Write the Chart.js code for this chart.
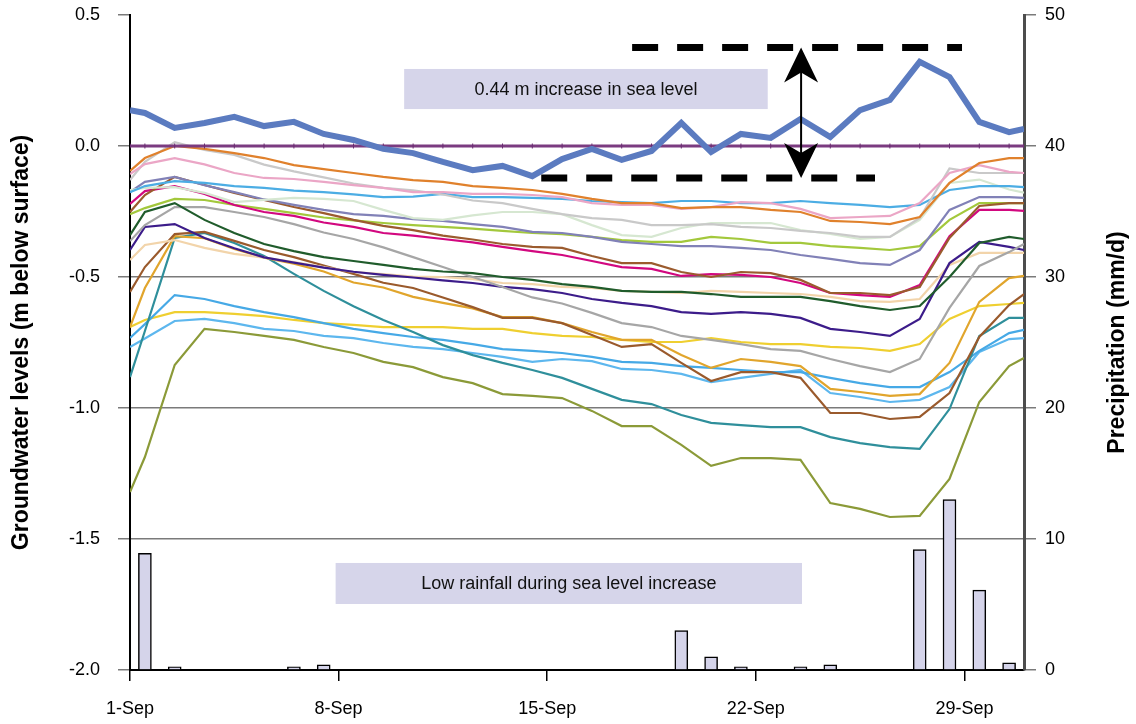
<!DOCTYPE html>
<html>
<head>
<meta charset="utf-8">
<script src="https://cdn.jsdelivr.net/npm/chart.js@4.4.1/dist/chart.umd.min.js"></script>
<style>
  html, body { margin: 0; padding: 0; background: #ffffff; }
  #wrap { width: 1136px; height: 724px; }
</style>
</head>
<body>
<div id="wrap"><canvas id="chart" width="1136" height="724"></canvas></div>
<script>
// Day offsets from 1 Sep 00:00 at which the water levels were logged
const dayOffsets = [0, 0.5, 1.5, 2.5, 3.5, 4.5, 5.5, 6.5, 7.5, 8.5, 9.5, 10.5, 11.5, 12.5, 13.5, 14.5,
  15.5, 16.5, 17.5, 18.5, 19.5, 20.5, 21.5, 22.5, 23.5, 24.5, 25.5, 26.5, 27.5, 28.5, 29.5, 30];

// Sea level (m) and the zero reference line
const seaLevel = [0.137, 0.126, 0.069, 0.088, 0.111, 0.076, 0.092, 0.046, 0.023, -0.011, -0.027, -0.061,
  -0.092, -0.076, -0.115, -0.050, -0.011, -0.053, -0.019, 0.088, -0.023, 0.046, 0.031, 0.103, 0.034,
  0.137, 0.176, 0.321, 0.263, 0.092, 0.053, 0.065];
const seaDatum = [0, 0, 0, 0, 0, 0, 0, 0, 0, 0, 0, 0, 0, 0, 0, 0, 0, 0, 0, 0, 0, 0, 0, 0, 0, 0, 0, 0, 0, 0, 0, 0];

// Groundwater levels, m below surface, one array per bore
const bore01 = [-0.095, -0.046, 0.000, -0.011, -0.027, -0.046, -0.073, -0.088, -0.103, -0.118, -0.130, -0.137, -0.153, -0.160, -0.168, -0.183, -0.202, -0.218, -0.218, -0.237, -0.233, -0.233, -0.244, -0.252, -0.286, -0.290, -0.298, -0.271, -0.141, -0.065, -0.046, -0.046];
const bore02 = [-0.107, -0.069, -0.046, -0.070, -0.103, -0.122, -0.126, -0.137, -0.149, -0.160, -0.176, -0.176, -0.183, -0.183, -0.187, -0.195, -0.218, -0.225, -0.225, -0.240, -0.233, -0.214, -0.218, -0.240, -0.275, -0.271, -0.267, -0.218, -0.103, -0.073, -0.099, -0.103];
const bore03 = [-0.130, -0.060, 0.015, -0.015, -0.034, -0.071, -0.097, -0.120, -0.143, -0.160, -0.169, -0.185, -0.208, -0.218, -0.240, -0.260, -0.275, -0.282, -0.302, -0.302, -0.298, -0.309, -0.313, -0.324, -0.332, -0.347, -0.347, -0.275, -0.086, -0.103, -0.103, -0.103];
const bore04 = [-0.176, -0.153, -0.134, -0.141, -0.153, -0.160, -0.170, -0.176, -0.185, -0.195, -0.193, -0.183, -0.195, -0.195, -0.198, -0.202, -0.210, -0.214, -0.218, -0.210, -0.210, -0.218, -0.218, -0.210, -0.218, -0.225, -0.233, -0.225, -0.168, -0.153, -0.153, -0.157];
const bore05 = [-0.168, -0.160, -0.157, -0.179, -0.214, -0.206, -0.198, -0.202, -0.210, -0.244, -0.275, -0.282, -0.265, -0.252, -0.252, -0.260, -0.302, -0.340, -0.347, -0.313, -0.294, -0.294, -0.294, -0.321, -0.336, -0.355, -0.347, -0.282, -0.141, -0.128, -0.166, -0.178];
const bore06 = [-0.176, -0.137, -0.118, -0.150, -0.176, -0.204, -0.225, -0.244, -0.260, -0.267, -0.279, -0.286, -0.298, -0.309, -0.328, -0.332, -0.347, -0.366, -0.374, -0.382, -0.382, -0.389, -0.397, -0.416, -0.431, -0.447, -0.454, -0.397, -0.244, -0.195, -0.195, -0.198];
const bore07 = [-0.252, -0.187, -0.118, -0.149, -0.179, -0.206, -0.233, -0.256, -0.282, -0.305, -0.321, -0.342, -0.357, -0.374, -0.385, -0.389, -0.420, -0.447, -0.447, -0.481, -0.500, -0.481, -0.485, -0.511, -0.561, -0.561, -0.569, -0.538, -0.351, -0.229, -0.218, -0.218];
const bore08 = [-0.221, -0.172, -0.153, -0.183, -0.225, -0.252, -0.267, -0.292, -0.309, -0.332, -0.342, -0.355, -0.368, -0.385, -0.401, -0.416, -0.439, -0.462, -0.469, -0.496, -0.489, -0.492, -0.500, -0.523, -0.561, -0.569, -0.576, -0.531, -0.344, -0.244, -0.244, -0.248];
const bore09 = [-0.260, -0.237, -0.202, -0.206, -0.225, -0.240, -0.256, -0.273, -0.284, -0.294, -0.302, -0.309, -0.315, -0.324, -0.332, -0.336, -0.347, -0.359, -0.366, -0.366, -0.347, -0.355, -0.370, -0.370, -0.382, -0.389, -0.397, -0.382, -0.282, -0.218, -0.218, -0.218];
const bore10 = [-0.340, -0.252, -0.218, -0.282, -0.332, -0.374, -0.401, -0.424, -0.439, -0.454, -0.469, -0.479, -0.485, -0.500, -0.511, -0.527, -0.538, -0.553, -0.557, -0.557, -0.565, -0.576, -0.576, -0.576, -0.592, -0.611, -0.626, -0.611, -0.500, -0.370, -0.347, -0.355];
const bore11 = [-0.363, -0.302, -0.233, -0.233, -0.252, -0.271, -0.298, -0.330, -0.355, -0.387, -0.424, -0.462, -0.500, -0.538, -0.578, -0.601, -0.637, -0.676, -0.691, -0.725, -0.740, -0.756, -0.775, -0.782, -0.813, -0.840, -0.863, -0.813, -0.618, -0.458, -0.405, -0.374];
const bore12 = [-0.397, -0.309, -0.298, -0.351, -0.390, -0.425, -0.445, -0.464, -0.480, -0.492, -0.502, -0.513, -0.523, -0.538, -0.546, -0.561, -0.584, -0.599, -0.611, -0.634, -0.641, -0.634, -0.641, -0.656, -0.698, -0.710, -0.725, -0.660, -0.447, -0.366, -0.385, -0.397];
const bore13 = [-0.435, -0.378, -0.359, -0.389, -0.412, -0.426, -0.443, -0.462, -0.481, -0.489, -0.498, -0.500, -0.508, -0.523, -0.527, -0.538, -0.542, -0.553, -0.557, -0.561, -0.553, -0.557, -0.561, -0.565, -0.576, -0.592, -0.595, -0.584, -0.454, -0.408, -0.408, -0.408];
const bore14 = [-0.557, -0.462, -0.336, -0.328, -0.362, -0.397, -0.424, -0.456, -0.488, -0.522, -0.542, -0.578, -0.615, -0.656, -0.656, -0.676, -0.721, -0.767, -0.756, -0.828, -0.897, -0.863, -0.863, -0.885, -1.019, -1.019, -1.042, -1.034, -0.943, -0.729, -0.607, -0.565];
const bore15 = [-0.691, -0.542, -0.344, -0.352, -0.393, -0.426, -0.449, -0.479, -0.521, -0.540, -0.576, -0.599, -0.620, -0.653, -0.653, -0.676, -0.710, -0.740, -0.740, -0.798, -0.847, -0.813, -0.824, -0.840, -0.927, -0.939, -0.954, -0.947, -0.828, -0.595, -0.504, -0.496];
const bore16 = [-0.882, -0.706, -0.351, -0.332, -0.370, -0.420, -0.488, -0.553, -0.612, -0.664, -0.710, -0.760, -0.798, -0.828, -0.855, -0.885, -0.927, -0.969, -0.985, -1.027, -1.057, -1.065, -1.073, -1.073, -1.111, -1.134, -1.149, -1.156, -1.004, -0.725, -0.656, -0.656];
const bore17 = [-0.733, -0.680, -0.569, -0.584, -0.611, -0.634, -0.653, -0.676, -0.698, -0.714, -0.729, -0.740, -0.756, -0.775, -0.782, -0.790, -0.805, -0.824, -0.828, -0.840, -0.847, -0.855, -0.863, -0.863, -0.885, -0.905, -0.920, -0.920, -0.863, -0.782, -0.714, -0.702];
const bore18 = [-0.767, -0.735, -0.668, -0.660, -0.676, -0.698, -0.706, -0.725, -0.733, -0.752, -0.767, -0.775, -0.790, -0.805, -0.824, -0.813, -0.821, -0.851, -0.855, -0.870, -0.901, -0.885, -0.870, -0.855, -0.943, -0.958, -0.977, -0.969, -0.920, -0.786, -0.737, -0.733];
const bore19 = [-0.691, -0.664, -0.634, -0.634, -0.641, -0.649, -0.664, -0.676, -0.683, -0.691, -0.691, -0.691, -0.698, -0.698, -0.714, -0.725, -0.729, -0.740, -0.748, -0.748, -0.733, -0.748, -0.756, -0.756, -0.767, -0.771, -0.782, -0.756, -0.660, -0.611, -0.603, -0.599];
const bore20 = [-1.321, -1.187, -0.836, -0.698, -0.710, -0.725, -0.740, -0.767, -0.790, -0.824, -0.844, -0.882, -0.905, -0.947, -0.954, -0.962, -1.011, -1.069, -1.069, -1.141, -1.221, -1.191, -1.191, -1.198, -1.363, -1.385, -1.416, -1.412, -1.271, -0.977, -0.840, -0.809];

// Daily precipitation (mm/d), plotted at the middle of each day
const rainDays = [0.5, 1.5, 5.5, 6.5, 18.5, 19.5, 20.5, 22.5, 23.5, 26.5, 27.5, 28.5, 29.5];
const rainfall = [8.9, 0.25, 0.25, 0.4, 3.0, 1.0, 0.25, 0.25, 0.4, 9.2, 13.0, 6.1, 0.55];

// Axis ticks
const dateTickDays = [0, 7, 14, 21, 28];
const dateTickLabels = ['1-Sep', '8-Sep', '15-Sep', '22-Sep', '29-Sep'];

const bores = [bore01, bore02, bore03, bore04, bore05, bore06, bore07, bore08, bore09, bore10,
  bore11, bore12, bore13, bore14, bore15, bore16, bore17, bore18, bore19, bore20];
const boreColours = ['#E0812C', '#EBA6C6', '#C9C9C9', '#4CADE4', '#D6E7D1', '#8181B7', '#9B5B2E',
  '#D2087F', '#A3C83C', '#205C2C', '#A6A6A6', '#3C1C8A', '#F2D4AA', '#9A5A2C', '#E1A52C',
  '#2F8F9B', '#46A9E6', '#5DB7EE', '#EFCF30', '#8B9A38'];

const FONT = '"Liberation Sans", Arial, sans-serif';
const TITLE_SIZE = 23;
const pts = (vals) => vals.map((v, i) => ({ x: dayOffsets[i], y: v }));

// Text boxes, guide lines and arrow drawn in data units
const annotations = {
  seaBox: { x0: 9.2, x1: 21.4, top: 0.294, bottom: 0.141, text: '0.44 m increase in sea level' },
  rainBox: { x0: 6.9, x1: 22.55, top: 8.17, bottom: 5.04, text: 'Low rainfall during sea level increase' },
  highGuide: { x0: 16.85, x1: 27.92, y: 0.376 },
  lowGuide: { x0: 13.8, x1: 25.0, y: -0.122 },
  arrowDay: 22.52
};

const annotate = {
  id: 'annotate',
  beforeDatasetsDraw(chart) {
    const { ctx } = chart;
    const { x, y, y2 } = chart.scales;
    const box = (b, sy) => {
      const px0 = x.getPixelForValue(b.x0), px1 = x.getPixelForValue(b.x1);
      const py0 = sy.getPixelForValue(b.top), py1 = sy.getPixelForValue(b.bottom);
      ctx.fillStyle = '#D6D5EA';
      ctx.fillRect(px0, py0, px1 - px0, py1 - py0);
      ctx.fillStyle = '#111';
      ctx.font = '18px ' + FONT;
      ctx.textAlign = 'center';
      ctx.textBaseline = 'middle';
      ctx.fillText(b.text, (px0 + px1) / 2, (py0 + py1) / 2 + 1);
    };
    ctx.save();
    box(annotations.seaBox, y);
    box(annotations.rainBox, y2);
    ctx.restore();
  },
  afterDatasetsDraw(chart) {
    const { ctx } = chart;
    const { x, y } = chart.scales;
    ctx.save();
    ctx.strokeStyle = '#000';
    ctx.lineWidth = 7;
    ctx.lineCap = 'butt';
    ctx.setLineDash([26, 19]);
    [annotations.highGuide, annotations.lowGuide].forEach(g => {
      const py = y.getPixelForValue(g.y);
      ctx.beginPath();
      ctx.moveTo(x.getPixelForValue(g.x0), py);
      ctx.lineTo(x.getPixelForValue(g.x1), py);
      ctx.stroke();
    });
    ctx.setLineDash([]);
    // double-headed arrow between the two guides
    const ax = x.getPixelForValue(annotations.arrowDay);
    const yTop = y.getPixelForValue(annotations.highGuide.y);
    const yBot = y.getPixelForValue(annotations.lowGuide.y);
    ctx.lineWidth = 2;
    ctx.beginPath();
    ctx.moveTo(ax, yTop + 20);
    ctx.lineTo(ax, yBot - 20);
    ctx.stroke();
    const head = (tipY, dir) => {
      ctx.beginPath();
      ctx.moveTo(ax, tipY);
      ctx.lineTo(ax - 17, tipY + dir * 35);
      ctx.lineTo(ax, tipY + dir * 25);
      ctx.lineTo(ax + 17, tipY + dir * 35);
      ctx.closePath();
      ctx.fillStyle = '#000';
      ctx.fill();
    };
    head(yTop, 1);
    head(yBot, -1);
    ctx.restore();
  },
  afterDraw(chart) {
    // secondary axis title, reading bottom to top
    const { ctx, chartArea } = chart;
    ctx.save();
    ctx.translate(1118, (chartArea.top + chartArea.bottom) / 2);
    ctx.rotate(-Math.PI / 2);
    ctx.font = 'bold ' + TITLE_SIZE + 'px ' + FONT;
    ctx.fillStyle = '#000';
    ctx.textAlign = 'center';
    ctx.textBaseline = 'middle';
    ctx.fillText('Precipitation (mm/d)', 0, 0);
    ctx.restore();
  }
};

// keep the outer tick labels from pushing the plot area inward
const trimVerticalPadding = (s) => { s.paddingTop = 10; s.paddingBottom = 10; };

const datasets = [
  { type: 'line', label: 'Sea level', data: pts(seaLevel), borderColor: '#5B7BC0', borderWidth: 6,
    pointRadius: 0, tension: 0, yAxisID: 'y' },
  { type: 'line', label: 'Datum', data: pts(seaDatum), borderColor: '#7B3B80', borderWidth: 3,
    pointRadius: 2.5, pointStyle: 'line', rotation: 90, pointBorderColor: '#6A2C70', pointBorderWidth: 1,
    tension: 0, yAxisID: 'y' }
];
bores.forEach((b, i) => datasets.push({
  type: 'line', label: 'Bore ' + (i + 1), data: pts(b), borderColor: boreColours[i], borderWidth: 2.2,
  pointRadius: 0, tension: 0, yAxisID: 'y'
}));
datasets.push({
  type: 'bar', label: 'Precipitation', data: rainDays.map((d, i) => ({ x: d, y: rainfall[i] })),
  backgroundColor: '#D5D4EA', borderColor: '#000', borderWidth: 1.5, barThickness: 13, yAxisID: 'y2'
});

new Chart(document.getElementById('chart'), {
  data: { datasets },
  options: {
    responsive: false,
    animation: false,
    devicePixelRatio: 1,
    layout: { padding: { top: 15, left: 0, right: 0, bottom: 0 } },
    plugins: { legend: { display: false }, tooltip: { enabled: false } },
    scales: {
      x: {
        type: 'linear', position: 'bottom', min: 0, max: 30, offset: false,
        afterBuildTicks: (s) => { s.ticks = dateTickDays.map(v => ({ value: v })); },
        afterFit: (s) => { s.height = 54; },
        ticks: {
          autoSkip: false, maxRotation: 0, padding: 17, color: '#000',
          font: { family: FONT, size: 18 },
          callback: (v) => dateTickLabels[dateTickDays.indexOf(v)]
        },
        grid: { offset: false, drawOnChartArea: false, tickLength: 11, color: '#000', lineWidth: 1.5 },
        border: { color: '#000', width: 2 }
      },
      y: {
        position: 'left', min: -2, max: 0.5,
        afterFit: (s) => { s.width = 130; trimVerticalPadding(s); },
        ticks: {
          stepSize: 0.5, padding: 18, color: '#000', font: { family: FONT, size: 18 },
          callback: (v) => (Math.abs(v) < 1e-9 ? 0 : v).toFixed(1)
        },
        grid: {
          color: (c) => (c.tick && c.tick.value === 0.5 ? 'rgba(0,0,0,0)' : '#7A7A7A'),
          tickColor: '#7A7A7A', lineWidth: 1.5, tickLength: 12
        },
        border: { color: '#000', width: 2 },
        title: {
          display: true, text: 'Groundwater levels (m below surface)', color: '#000',
          font: { family: FONT, size: TITLE_SIZE, weight: 'bold' }, padding: { top: 8, bottom: 0 }
        }
      },
      y2: {
        position: 'right', min: 0, max: 50,
        afterFit: (s) => { s.width = 112; trimVerticalPadding(s); },
        ticks: { stepSize: 10, padding: 9, color: '#000', font: { family: FONT, size: 18 } },
        grid: { drawOnChartArea: false, color: '#7A7A7A', lineWidth: 1.5, tickLength: 12 },
        border: { color: '#4D4D4D', width: 3 }
      }
    }
  },
  plugins: [annotate]
});
</script>
</body>
</html>
